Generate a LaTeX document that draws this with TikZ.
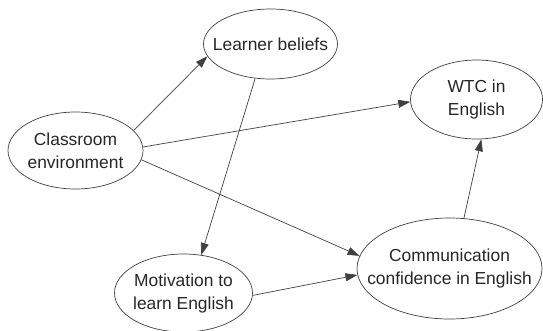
\documentclass[tikz,border=0pt]{standalone}
\usepackage{fontspec}
\setmainfont{Liberation Sans}
\usetikzlibrary{shapes.geometric,arrows.meta}

\begin{document}
\begin{tikzpicture}[x=1pt,y=-1pt,node distance=195pt]

\tikzstyle{ci} = [ellipse, draw=black!75, line width=0.7pt, text=black!85, align=center, inner sep=0pt, inner xsep=-40pt, font=\fontsize{17.4}{23}\selectfont]
\tikzstyle{ar} = [draw=black!75, line width=0.7pt, -{Triangle[length=12pt,width=8pt]}]
\useasboundingbox (0,0) rectangle (543,330);
\node (cls) [ci, minimum width=135pt, minimum height=77pt] at (75.5,150.5) {Classroom\\environment};
\node (lb) [ci, right of=cls, yshift=106.5pt, minimum width=134pt, minimum height=70pt] {Learner beliefs};
\node (mot) [ci, right of=cls, xshift=-87pt, yshift=-142.5pt, minimum width=138pt, minimum height=78pt] {Motivation to\\learn English};
\node (wtc) [ci, right of=lb, xshift=11pt, yshift=-55.5pt, minimum width=132pt, minimum height=79pt] {WTC in\\English};
\node (comm) [ci, right of=mot, xshift=71pt, yshift=24.5pt, minimum width=185pt, minimum height=101pt] {Communication\\confidence in English};
\draw [ar] (cls.19.5) -- (lb.191);
\draw [ar] (cls.3) -- (wtc.182);
\draw [ar] (cls.352) -- (comm.172);
\draw [ar] (lb.246) -- (mot.65);
\draw [ar] (mot.358) -- (comm.184);
\draw [ar] (comm.74) -- (wtc.277);
\end{tikzpicture}
\end{document}
